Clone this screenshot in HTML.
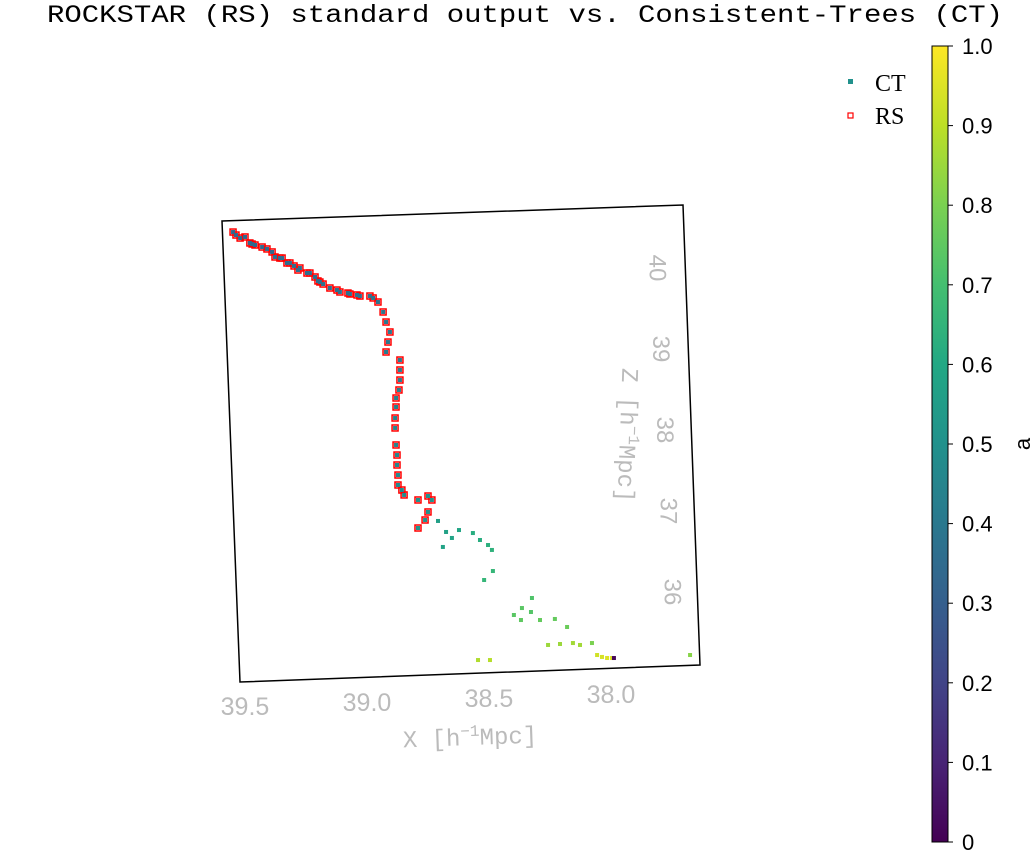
<!DOCTYPE html>
<html><head><meta charset="utf-8"><style>
html,body{margin:0;padding:0;background:#fff;}
svg{display:block;}
</style></head><body>
<svg id="chart" width="1032" height="855" viewBox="0 0 1032 855" xmlns="http://www.w3.org/2000/svg">
<defs>
<linearGradient id="vir" x1="0" y1="1" x2="0" y2="0">
<stop offset="0" stop-color="#440154"/><stop offset="0.1" stop-color="#482475"/><stop offset="0.2" stop-color="#414487"/><stop offset="0.3" stop-color="#355f8d"/><stop offset="0.4" stop-color="#2a788e"/><stop offset="0.5" stop-color="#21918c"/><stop offset="0.6" stop-color="#22a884"/><stop offset="0.7" stop-color="#44bf70"/><stop offset="0.8" stop-color="#7ad151"/><stop offset="0.9" stop-color="#bddf26"/><stop offset="1" stop-color="#fde725"/>
</linearGradient>
</defs>
<text x="47" y="22" font-family="Liberation Mono, monospace" font-size="25" textLength="956" lengthAdjust="spacingAndGlyphs">ROCKSTAR (RS) standard output vs. Consistent-Trees (CT)</text>
<polygon points="222,221 683,205 700,665 240,682" fill="#fff" stroke="#000" stroke-width="1.5"/>
<g id="xticks"></g>
<g id="zticks"></g>
<text x="470" y="745" text-anchor="middle" font-family="Liberation Mono, monospace" font-size="24" fill="#bbb" transform="rotate(-2 470 737)">X [h<tspan dy="-9" font-size="16">−1</tspan><tspan dy="9">Mpc]</tspan></text>
<text x="620" y="435" text-anchor="middle" font-family="Liberation Mono, monospace" font-size="24" fill="#bbb" transform="rotate(92 620 435)">Z [h<tspan dy="-9" font-size="16">−1</tspan><tspan dy="9">Mpc]</tspan></text>
<g id="rs"></g>
<g id="ct"></g>
<g>
<rect x="848" y="79" width="5" height="5" fill="#21918c"/>
<text x="875" y="91" font-family="Liberation Serif, serif" font-size="24">CT</text>
<rect x="848" y="113" width="5" height="5" fill="none" stroke="#f00" stroke-width="1.2"/>
<text x="875" y="124" font-family="Liberation Serif, serif" font-size="24">RS</text>
</g>
<rect x="932" y="46" width="16" height="796" fill="url(#vir)" stroke="#000" stroke-width="1"/>
<g id="cbticks"></g>
<text x="1030" y="444" font-family="Liberation Sans, sans-serif" font-size="22" transform="rotate(-90 1030 444)" text-anchor="middle">a</text>
</svg>
<script>
const xTicks=[39.5,39.0,38.5,38.0];
const xTickLabels=["39.5","39.0","38.5","38.0"];
const zTicks=[40,39,38,37,36];
const zTickLabels=["40","39","38","37","36"];
const cbTicks=[0,0.1,0.2,0.3,0.4,0.5,0.6,0.7,0.8,0.9,1.0];
const cbTickLabels=["0","0.1","0.2","0.3","0.4","0.5","0.6","0.7","0.8","0.9","1.0"];
const ctX=[39.500,39.459,39.410,39.377,39.328,39.283,39.246,39.201,39.180,39.123,39.078,39.041,38.975,39.537,39.471,39.348,39.299,39.213,
39.549,39.520,39.480,39.430,39.389,39.357,39.316,39.275,39.234,39.193,39.152,39.111,39.070,39.029,38.988,38.955,38.934,38.922,38.906,38.914,38.922,38.865,38.865,38.865,38.869,38.881,38.881,38.885,38.885,38.881,38.877,38.877,38.873,38.873,38.857,38.848,38.791,38.750,38.734,38.750,38.762,38.791,
38.709,38.676,38.652,38.623,38.689,38.566,38.537,38.504,38.488,38.520,38.484,38.324,38.328,38.365,38.398,38.369,38.291,38.230,38.180,38.258,38.209,38.156,38.127,38.078,38.545,38.496,37.676,38.057,38.037,38.016,37.996,37.988];
const ctZ=[40.383,40.284,40.235,40.136,40.062,39.975,39.938,39.840,39.802,39.728,39.691,39.667,39.630,40.407,40.296,40.123,40.025,39.889,
40.444,40.370,40.309,40.259,40.198,40.123,40.062,40.000,39.938,39.827,39.753,39.704,39.679,39.654,39.654,39.580,39.457,39.333,39.210,39.086,38.963,38.864,38.741,38.617,38.494,38.395,38.284,38.148,38.025,37.815,37.691,37.568,37.444,37.321,37.259,37.198,37.136,37.185,37.136,36.988,36.889,36.790,
36.877,36.741,36.667,36.765,36.556,36.728,36.642,36.580,36.519,36.148,36.259,35.926,35.753,35.802,35.716,35.654,35.654,35.667,35.568,35.346,35.358,35.370,35.346,35.370,35.160,35.160,35.222,35.222,35.198,35.185,35.185,35.185];
const ctA=[0.33,0.34,0.34,0.35,0.35,0.36,0.36,0.36,0.37,0.37,0.37,0.38,0.38,0.33,0.34,0.35,0.35,0.36,
0.33,0.33,0.34,0.34,0.34,0.35,0.35,0.35,0.36,0.36,0.36,0.37,0.37,0.37,0.38,0.38,0.39,0.39,0.40,0.40,0.41,0.41,0.42,0.42,0.43,0.43,0.44,0.44,0.45,0.45,0.46,0.46,0.47,0.47,0.48,0.48,0.50,0.50,0.51,0.50,0.50,0.51,
0.56,0.57,0.58,0.59,0.58,0.62,0.62,0.63,0.64,0.66,0.66,0.72,0.73,0.74,0.74,0.75,0.76,0.76,0.77,0.85,0.85,0.86,0.86,0.80,0.88,0.89,0.82,0.93,0.94,0.95,0.95,0.02];
const rsCount=60;
const viridis=["#440154","#482475","#414487","#355f8d","#2a788e","#21918c","#22a884","#44bf70","#7ad151","#bddf26","#fde725"];
function hex(c){return [1,3,5].map(i=>parseInt(c.substr(i,2),16));}
function cmap(a){a=Math.max(0,Math.min(1,a));const p=a*10,i=Math.min(9,Math.floor(p)),t=p-i;const c0=hex(viridis[i]),c1=hex(viridis[i+1]);return 'rgb('+c0.map((v,k)=>Math.round(v+(c1[k]-v)*t)).join(',')+')';}
function sx(X,Z){return 245+(39.5-X)*244;}
function sy(X,Z){return 268+(40-Z)*81;}
const NS='http://www.w3.org/2000/svg';
function mk(tag,attrs,parent){const e=document.createElementNS(NS,tag);for(const k in attrs)e.setAttribute(k,attrs[k]);parent.appendChild(e);return e;}
const rs=document.getElementById('rs'),ct=document.getElementById('ct');
for(let i=0;i<rsCount;i++){
 const r=mk('rect',{x:sx(ctX[i],ctZ[i])-3,y:sy(ctX[i],ctZ[i])-3,width:6,height:6,fill:'none',stroke:'#f00','stroke-width':1.5},rs);
 
 
}
for(let i=0;i<ctX.length;i++){
 const r=mk('rect',{x:sx(ctX[i],ctZ[i])-2,y:sy(ctX[i],ctZ[i])-2,width:4,height:4,fill:cmap(ctA[i])},ct);
 
 
}
const xt=document.getElementById('xticks');
xTicks.forEach((v,i)=>{
 const bx=245+(39.5-v)*244, by=715-(39.5-v)*8;
 const t=mk('text',{x:bx,y:by,'text-anchor':'middle','font-family':'Liberation Sans, sans-serif','font-size':25,fill:'#bbb'},xt);
 t.textContent=xTickLabels[i];
 
 
});
const zt=document.getElementById('zticks');
zTicks.forEach((v,i)=>{
 const cx=657+(40-v)*3.7, cy=268+(40-v)*81;
 const t=mk('text',{x:cx,y:cy,'text-anchor':'middle','dominant-baseline':'central','font-family':'Liberation Sans, sans-serif','font-size':24,fill:'#bbb',transform:'rotate(90 '+cx+' '+cy+')'},zt);
 t.textContent=zTickLabels[i];
 
 
});
const cb=document.getElementById('cbticks');
cbTicks.forEach((v,i)=>{
 const y=842-v*796;
 const l=mk('line',{x1:948,x2:953,y1:y,y2:y,stroke:'#000'},cb);
 
 
 const t=mk('text',{x:962,y:y+8,'font-family':'Liberation Sans, sans-serif','font-size':22},cb);
 t.textContent=cbTickLabels[i];
 
 
});
</script>
</body></html>
